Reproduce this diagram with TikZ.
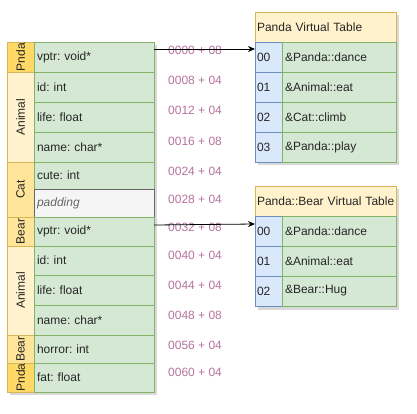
\documentclass[tikz,border=0pt]{standalone}
\usepackage{fontspec}
\setmainfont{Liberation Sans}
\usetikzlibrary{arrows.meta}
\frenchspacing
\definecolor{gfill}{HTML}{D5E8D4}
\definecolor{gline}{HTML}{82B366}
\definecolor{yfill}{HTML}{FFF2CC}
\definecolor{yline}{HTML}{D6B656}
\definecolor{y2fill}{HTML}{FFE599}
\definecolor{y3fill}{HTML}{FFD966}
\definecolor{bfill}{HTML}{DAE8FC}
\definecolor{bline}{HTML}{6C8EBF}
\definecolor{pfill}{HTML}{F5F5F5}
\definecolor{pline}{HTML}{666666}
\definecolor{offc}{HTML}{B5739D}
\definecolor{txt}{HTML}{262626}
\tikzset{
  base/.style={inner sep=0pt, outer sep=0pt, anchor=north west, font=\fontsize{12}{14}\selectfont, text=txt},
  row/.style={base, draw=gline, fill=gfill, text width=114pt, inner xsep=3pt, align=left, minimum height=#1},
  padrow/.style={base, draw=pline, fill=pfill, text width=114pt, inner xsep=3pt, align=left, minimum height=#1, font=\fontsize{12}{14}\selectfont\itshape, text=pline},
  side/.style={inner sep=0pt, outer sep=0pt, draw=yline, rotate=90, minimum height=27pt, minimum width=#1, font=\fontsize{12}{14}\selectfont, text=txt},
  hdr/.style={base, draw=yline, fill=yfill, text width=137pt, inner xsep=2pt, align=left, minimum height=30pt},
  idx/.style={base, draw=bline, fill=bfill, text width=23pt, inner xsep=2pt, align=left, minimum height=30pt},
  ent/.style={base, draw=gline, fill=gfill, text width=108pt, inner xsep=3pt, align=left, minimum height=30pt},
  offs/.style={inner sep=0pt, anchor=west, font=\fontsize{12}{14}\selectfont, text=offc},
  shad/.style={fill=black, opacity=0.15, draw=none},
  ptr/.style={-{Stealth[length=7pt,width=6pt]}, line width=0.8pt, black},
}
\begin{document}
\begin{tikzpicture}[x=1pt,y=-1pt]
\useasboundingbox (0,0) rectangle (417,413);
% shadows
\fill[shad] (10,45) rectangle (157,395);
\fill[shad] (258,15) rectangle (399,165);
\fill[shad] (258,189) rectangle (399,310);
% side column
\node[side=30pt, fill=y3fill] (s1) at (20.5,57) {Pnda};
\node[side=90pt, fill=yfill] (s2) at (20.5,117) {Animal};
\node[side=55pt, fill=y2fill] (s3) at (20.5,189.5) {Cat};
\node[side=29pt, fill=y2fill] (s4) at (20.5,231.5) {Bear};
\node[side=89pt, fill=yfill] (s5) at (20.5,290.5) {Animal};
\node[side=28pt, fill=y2fill] (s6) at (20.5,349) {Bear};
\node[side=29pt, fill=y3fill] (s7) at (20.5,377.5) {Pnda};
% main rows
\node[row=30pt] (r1) at (34,42) {vptr: void*};
\node[row=30pt] (r2) at (34,72) {id: int};
\node[row=30pt] (r3) at (34,102) {life: float};
\node[row=30pt] (r4) at (34,132) {name: char*};
\node[row=27pt] (r5) at (34,162) {cute: int};
\node[padrow=28pt] (r6) at (34,189) {padding};
\node[row=29pt] (r7) at (34,217) {vptr: void*};
\node[row=29pt] (r8) at (34,246) {id: int};
\node[row=30pt] (r9) at (34,275) {life: float};
\node[row=30pt] (r10) at (34,305) {name: char*};
\node[row=28pt] (r11) at (34,335) {horror: int};
\node[row=29pt] (r12) at (34,363) {fat: float};
% offsets
\foreach \t/\yy [count=\i] in {0000 + 08/50,0008 + 04/80,0012 + 04/110,0016 + 08/141,0024 + 04/171,0028 + 04/199,0032 + 08/227,0040 + 04/255,0044 + 04/285,0048 + 08/315,0056 + 04/345,0060 + 04/372}{
  \node[offs] (o\i) at (168,\yy) {\t};
}
% Panda table
\node[hdr] (ph) at (255,12) {\mbox{Panda Virtual Table}};
\node[idx] (pi0) at (255,42) {00};
\node[ent] (pe0) at (282,42) {\&Panda::dance};
\node[idx] (pi1) at (255,72) {01};
\node[ent] (pe1) at (282,72) {\&Animal::eat};
\node[idx] (pi2) at (255,102) {02};
\node[ent] (pe2) at (282,102) {\&Cat::climb};
\node[idx] (pi3) at (255,132) {03};
\node[ent] (pe3) at (282,132) {\&Panda::play};
% Bear table
\node[hdr] (bh) at (255,186) {\mbox{Panda::Bear Virtual Table}};
\node[idx] (bi0) at (255,216) {00};
\node[ent] (be0) at (282,216) {\&Panda::dance};
\node[idx] (bi1) at (255,246) {01};
\node[ent] (be1) at (282,246) {\&Animal::eat};
\node[idx] (bi2) at (255,276) {02};
\node[ent] (be2) at (282,276) {\&Bear::Hug};
% pointers
\draw[ptr] ([yshift=-7pt]r1.north east) -- ([yshift=-7pt]pi0.north west);
\draw[ptr] ([yshift=-8pt]r7.north east) -- ([yshift=-8pt]bi0.north west);
\end{tikzpicture}
\end{document}
